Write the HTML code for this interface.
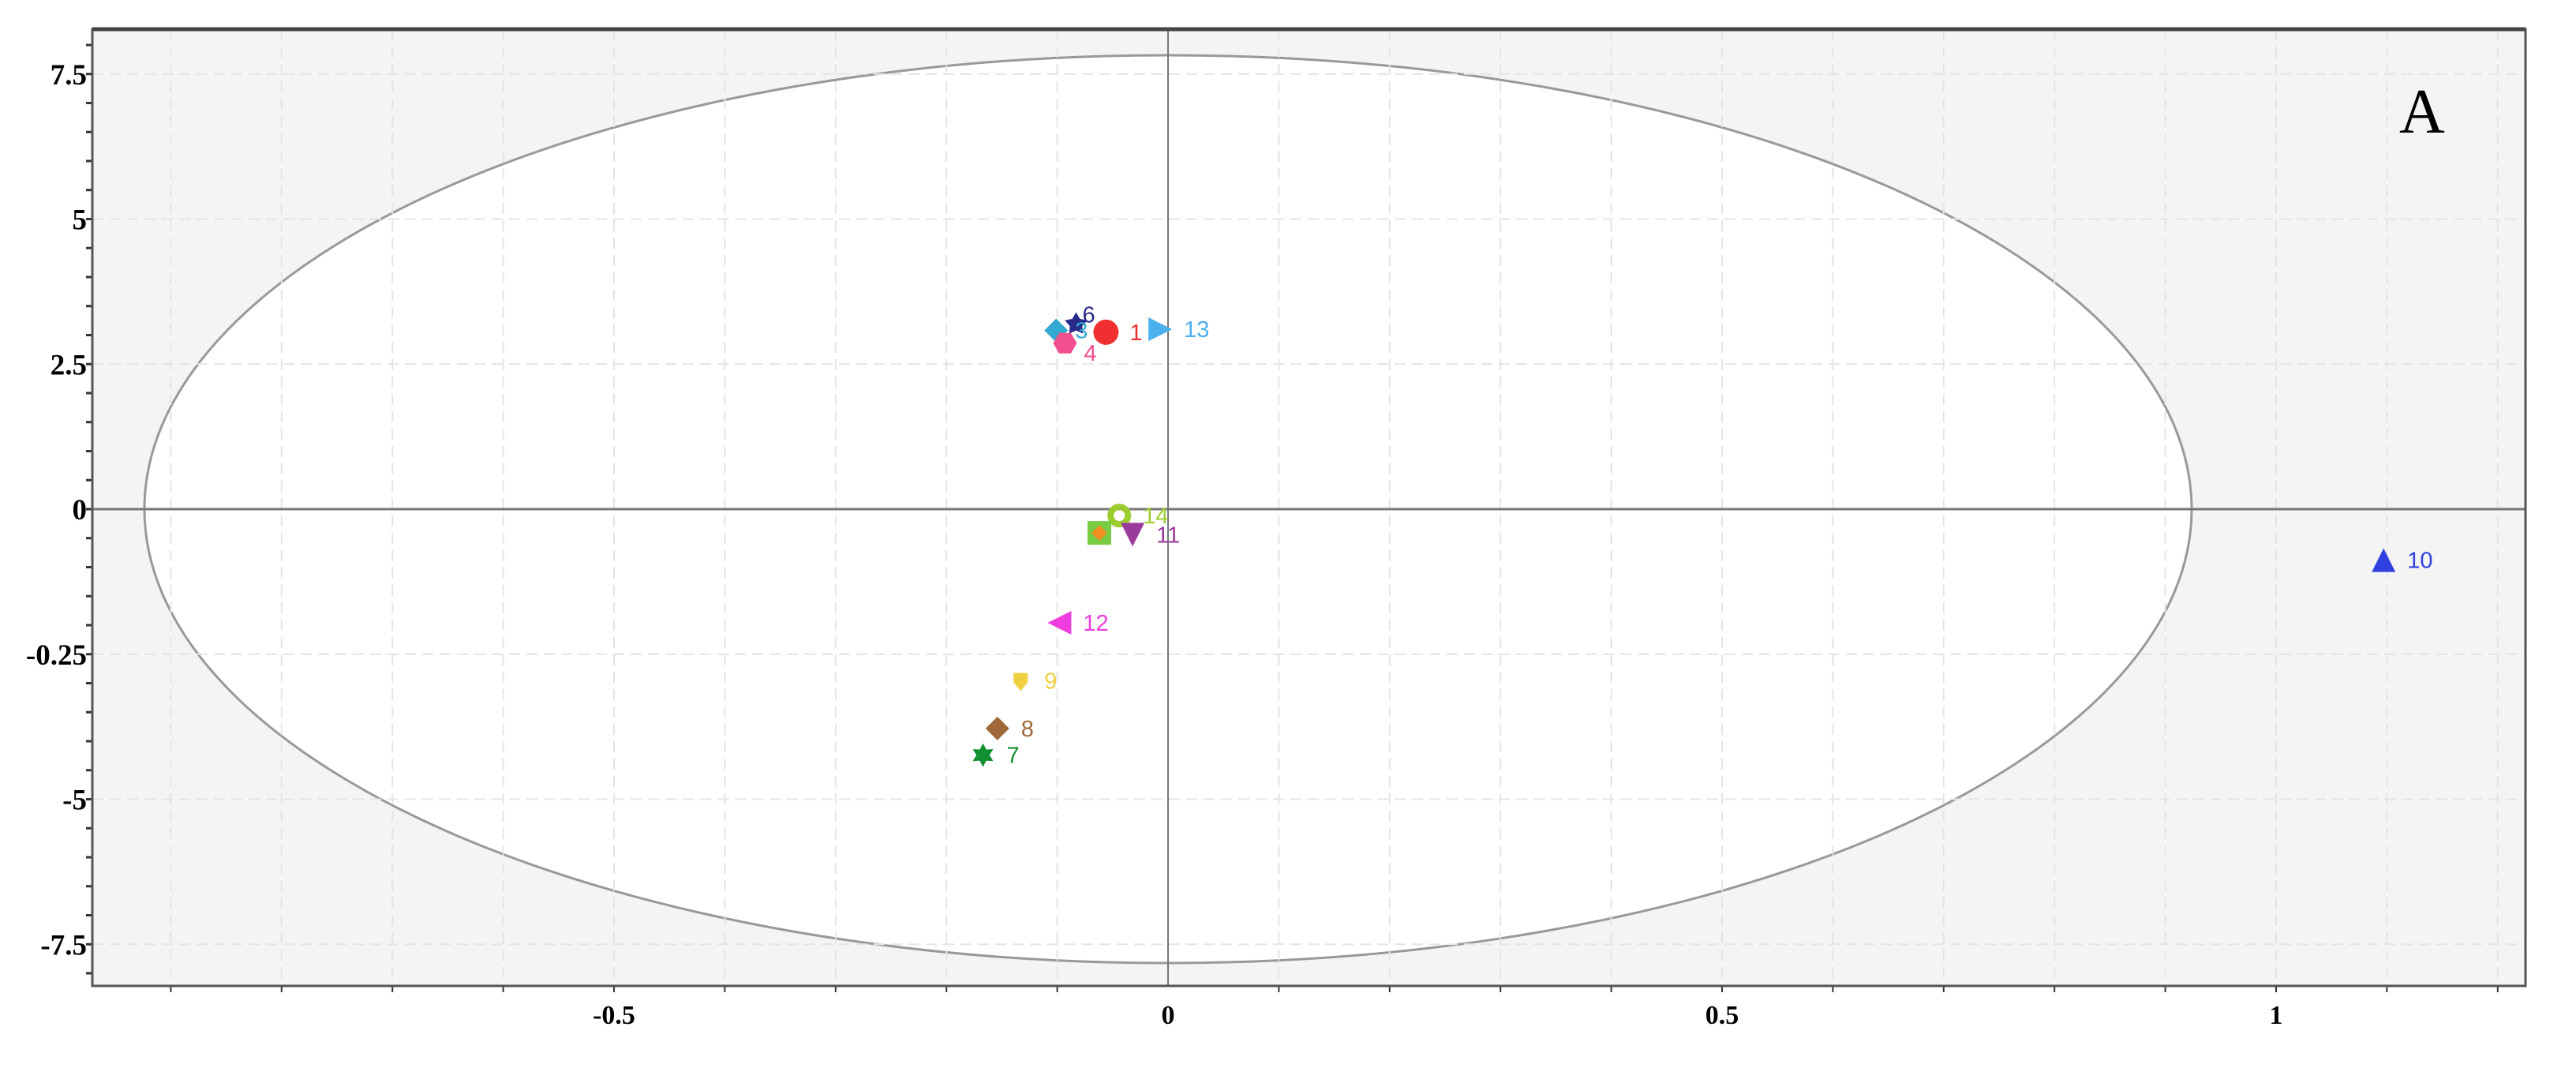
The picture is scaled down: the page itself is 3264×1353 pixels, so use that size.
<!DOCTYPE html>
<html><head><meta charset="utf-8"><style>
html,body{margin:0;padding:0;background:#fff;width:3264px;height:1353px;overflow:hidden}
svg{display:block}
</style></head><body>
<svg id="chart" width="3264" height="1353" xmlns="http://www.w3.org/2000/svg">
<defs><clipPath id="clip"><rect x="117" y="37" width="3083" height="1212"/></clipPath></defs>
<rect x="117" y="37" width="3083" height="1212" fill="#f4f4f4"/>
<g id="grid" clip-path="url(#clip)"></g>
<ellipse id="ell" fill="#fff" stroke="#999" stroke-width="3"/>
<g id="grid2" clip-path="url(#clip)"></g>
<g id="axes"></g>
<g id="marks"></g>
<rect x="117" y="37" width="3083" height="1212" fill="none" stroke="#555" stroke-width="3"/>
<line x1="117" y1="37" x2="3200" y2="37" stroke="#444" stroke-width="5"/>
<text x="3040" y="168" font-family="Liberation Serif, serif" font-size="80">A</text>
</svg>
<script>
const labels=['1','6','5','4','13','14','2','11','12','9','8','7','10'];
const xs=[-0.056,-0.083,-0.101,-0.093,-0.007,-0.044,-0.062,-0.032,-0.098,-0.133,-0.154,-0.167,1.097];
const ys=[3.05,3.19,3.08,2.86,3.10,-0.11,-0.41,-0.44,-1.96,-2.96,-3.78,-4.24,-0.88];
const colors=['#f03030','#2a2a8a','#33a8d0','#f0508f','#4ab0ee','#9ccc30','#f09020','#9a3a9a','#ee3ee0','#f0d040','#a06838','#109030','#3040e0'];
const shapes=['circle','star','diamond','hexagon','tri-right','ring','square','tri-down','tri-left','pin','diamond','gear','tri-up'];
const yTicks=[7.5,5,2.5,0,-2.5,-5,-7.5];
const yTickLabels=['7.5','5','2.5','0','-0.25','-5','-7.5'];
const xTicks=[-0.5,0,0.5,1];
const xTickLabels=['-0.5','0','0.5','1'];
const NS='http://www.w3.org/2000/svg';
const X=v=>1480+v*1404, Y=v=>645-v*73.5;
function mk(t,a,p){const e=document.createElementNS(NS,t);for(const k in a)e.setAttribute(k,a[k]);(p||document.getElementById('marks')).appendChild(e);return e;}
const ell=document.getElementById('ell');
ell.setAttribute('cx',X(0));ell.setAttribute('cy',Y(0));ell.setAttribute('rx',1297);ell.setAttribute('ry',575);
const g=document.getElementById('grid2'),ax=document.getElementById('axes');
for(let i=-9;i<=12;i++){const v=i/10;if(i===0)continue;const l=mk('line',{x1:X(v),x2:X(v),y1:37,y2:1249,stroke:'#e4e4e4','stroke-width':2,'stroke-dasharray':'14 8'},g);


const t=mk('line',{x1:X(v),x2:X(v),y1:1249,y2:1257,stroke:'#333','stroke-width':2},ax);

}
yTicks.forEach((v,i)=>{if(v!==0){const l=mk('line',{x1:117,x2:3200,y1:Y(v),y2:Y(v),stroke:'#e4e4e4','stroke-width':2,'stroke-dasharray':'14 8'},g);

}
const t=mk('text',{x:110,y:Y(v)+13,'text-anchor':'end','font-family':'Liberation Serif, serif','font-size':37,'font-weight':'bold'},ax);t.textContent=yTickLabels[i];

});
for(let i=-16;i<=16;i++){const t=mk('line',{x1:109,x2:117,y1:Y(i/2),y2:Y(i/2),stroke:'#333','stroke-width':3},ax);

}
xTicks.forEach((v,i)=>{const t=mk('text',{x:X(v),y:1297,'text-anchor':'middle','font-family':'Liberation Serif, serif','font-size':34,'font-weight':'bold'},ax);t.textContent=xTickLabels[i];

});
let l1=mk('line',{x1:117,x2:3200,y1:Y(0),y2:Y(0),stroke:'#777','stroke-width':3},ax);


let l2=mk('line',{x1:X(0),x2:X(0),y1:37,y2:1249,stroke:'#777','stroke-width':2},ax);


function shape(s,cx,cy,c){const r=15;let e;
const poly=pts=>mk('polygon',{points:pts.map(p=>(cx+p[0])+','+(cy+p[1])).join(' '),fill:c});
if(s==='circle')e=mk('circle',{cx,cy,r:r+1,fill:c});
else if(s==='ring')e=mk('circle',{cx,cy,r:11,fill:'none',stroke:c,'stroke-width':8});
else if(s==='square'){e=mk('g',{});mk('rect',{x:cx-r,y:cy-r,width:2*r,height:2*r,fill:'#7c4'},e);mk('polygon',{points:`${cx},${cy-10} ${cx+10},${cy} ${cx},${cy+10} ${cx-10},${cy}`,fill:c},e);}
else if(s==='diamond')e=poly([[0,-r],[r,0],[0,r],[-r,0]]);
else if(s==='tri-up')e=poly([[0,-r],[r,r],[-r,r]]);
else if(s==='tri-down')e=poly([[-r,-r],[r,-r],[0,r]]);
else if(s==='tri-left')e=poly([[-r,0],[r,-r],[r,r]]);
else if(s==='tri-right')e=poly([[r,0],[-r,-r],[-r,r]]);
else if(s==='hexagon'){const p=[];for(let k=0;k<6;k++){const a=k*Math.PI/3;p.push([r*Math.cos(a),r*Math.sin(a)]);}e=poly(p);}
else if(s==='star'||s==='gear'){const n=s==='star'?5:6,p=[];for(let k=0;k<2*n;k++){const a=k*Math.PI/n-Math.PI/2,rr=k%2?r*0.55:r;p.push([rr*Math.cos(a),rr*Math.sin(a)]);}e=poly(p);}
else if(s==='pin')e=poly([[-9,-10],[9,-10],[9,2],[0,13],[-9,2]]);
return e;}
labels.forEach((lb,i)=>{const cx=X(xs[i]),cy=Y(ys[i]);
const m=shape(shapes[i],cx,cy,colors[i]);


if(lb==='2')return;
const t=mk('text',{x:cx+(lb==='6'?8:(lb==='5'||lb==='4')?24:30),y:cy+(lb==='4'?22:lb==='6'?-2:10),fill:colors[i],'font-family':'Liberation Sans, sans-serif','font-size':29});t.textContent=lb==='5'?'3':lb;

});
</script>
</body></html>
